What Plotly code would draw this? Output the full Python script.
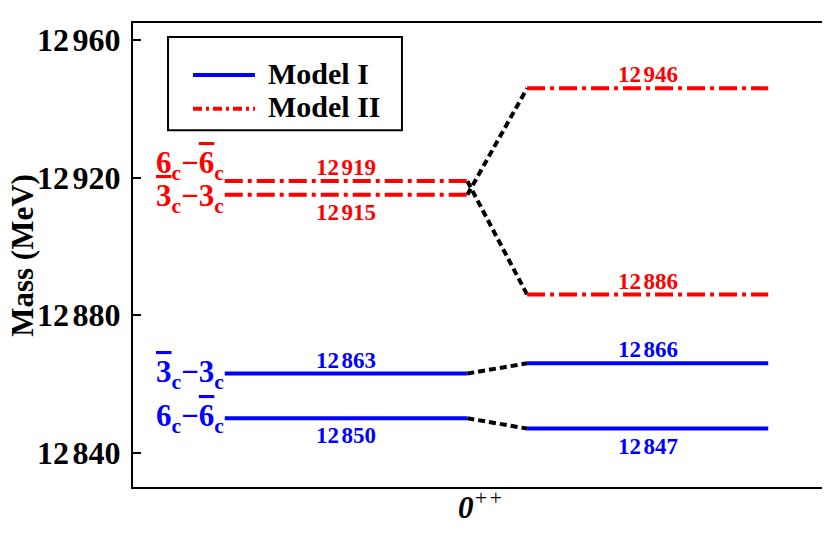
import plotly.graph_objects as go

# ---------------- data ----------------
OV = '<span style="text-decoration:overline">{}</span>'
state_labels = [
    "6<sub>c</sub>\u2212" + OV.format("6") + "<sub>c</sub>",
    OV.format("3") + "<sub>c</sub>\u22123<sub>c</sub>",
]
model1_left = [12850, 12863]
model1_right = [12847, 12866]
model2_left = [12919, 12915]
model2_right = [12886, 12946]
model1_left_pos = ["below", "above"]
model1_right_pos = ["below", "above"]
model2_left_pos = ["above", "below"]
model2_right_pos = ["above", "above"]
ytick_vals = [12840, 12880, 12920, 12960]
x_label = "0<span style=\"font-weight:normal\"><sup>++</sup></span>"
y_label = "Mass (MeV)"
model_names = ["Model I", "Model II"]

# ---------------- layout constants ----------------
LX0, LX1 = 0.132, 0.481
RX0, RX1 = 0.567, 0.914
FONT = "Liberation Serif"
BLUE = "#0000ff"
RED = "#ff0000"
DASHDOT = "18px,5px,4px,5px"


def fmt(v, gap=14):
    return f'{v // 1000}<span style="font-size:{gap}px"> </span>{v % 1000:03d}'


fig = go.Figure()

models = [
    (model1_left, model1_right, model1_left_pos, model1_right_pos, BLUE, "solid"),
    (model2_left, model2_right, model2_left_pos, model2_right_pos, RED, DASHDOT),
]

annotations = []
for left, right, lpos, rpos, color, dash in models:
    for i, (lv, rv) in enumerate(zip(left, right)):
        fig.add_trace(go.Scatter(x=[LX1, RX0], y=[lv, rv], mode="lines",
                                 line=dict(color="black", width=4, dash="7px,4px"),
                                 showlegend=False, hoverinfo="skip"))
        fig.add_trace(go.Scatter(x=[LX0, LX1], y=[lv, lv], mode="lines",
                                 line=dict(color=color, width=4, dash=dash),
                                 showlegend=False))
        fig.add_trace(go.Scatter(x=[RX0, RX1], y=[rv, rv], mode="lines",
                                 line=dict(color=color, width=4, dash=dash),
                                 showlegend=False))
        for xc, v, pos in [((LX0 + LX1) / 2, lv, lpos[i]), ((RX0 + RX1) / 2, rv, rpos[i])]:
            annotations.append(dict(
                x=xc, y=v, xref="x", yref="y", text=fmt(v, 10), showarrow=False,
                yanchor="bottom" if pos == "above" else "top",
                yshift=-1 if pos == "above" else -3,
                font=dict(family=FONT, size=23, color=color, weight="bold")))

# state labels on the left
state_cfg = [
    (model1_left[0], BLUE, "middle", 0),
    (model1_left[1], BLUE, "middle", 0),
    (model2_left[0], RED, "bottom", -6),
    (model2_left[1], RED, "middle", -3),
]
state_text = [state_labels[0], state_labels[1], state_labels[0], state_labels[1]]
for (v, color, ya, ys), txt in zip(state_cfg, state_text):
    annotations.append(dict(
        x=LX0, y=v, xref="x", yref="y", text=txt, showarrow=False,
        xanchor="right", yanchor=ya, yshift=ys, xshift=1,
        font=dict(family=FONT, size=31, color=color, weight="bold")))

# y-axis title placed explicitly
annotations.append(dict(x=-0.160, y=0.5, xref="paper", yref="paper", text=y_label,
                        textangle=-90, showarrow=False, xanchor="center", yanchor="middle",
                        font=dict(family=FONT, size=31, color="black", weight="bold")))

# manual legend (box, sample lines, labels) in paper coordinates
shapes = [
    dict(type="rect", xref="paper", yref="paper", x0=0.0504, x1=0.387, y0=0.769, y1=0.970,
         line=dict(color="black", width=2), fillcolor="white", layer="above"),
    dict(type="line", xref="paper", yref="paper", x0=0.0863, x1=0.1755, y0=0.888, y1=0.888,
         line=dict(color=BLUE, width=4), layer="above"),
    dict(type="line", xref="paper", yref="paper", x0=0.0863, x1=0.1755, y0=0.815, y1=0.815,
         line=dict(color=RED, width=4, dash="9px,4px,3px,4px"), layer="above"),
]
for name, yy in zip(model_names, [0.892, 0.821]):
    annotations.append(dict(x=0.192, y=yy, xref="paper", yref="paper", text=name,
                            showarrow=False, xanchor="left", yanchor="middle",
                            font=dict(family=FONT, size=30, color="black", weight="bold")))

fig.update_layout(
    width=822, height=546,
    margin=dict(l=125, r=2, t=15, b=67),
    paper_bgcolor="white", plot_bgcolor="white",
    font=dict(family=FONT, color="black"),
    annotations=annotations,
    shapes=shapes,
    showlegend=False,
    xaxis=dict(range=[0, 1], showticklabels=False, ticks="", showgrid=False,
               zeroline=False, showline=True, linecolor="black", linewidth=2, mirror=True,
               title=dict(text=x_label, standoff=8,
                          font=dict(family=FONT, size=31, color="black", weight="bold", style="italic"))),
    yaxis=dict(range=[12830, 12965], tickvals=ytick_vals, ticktext=[fmt(v) for v in ytick_vals],
               ticks="inside", ticklen=8, tickwidth=2, tickcolor="black", ticklabelstandoff=4,
               showgrid=False, zeroline=False, showline=True, linecolor="black", linewidth=2,
               mirror=False,
               tickfont=dict(family=FONT, size=32, color="black", weight="bold")),
)
# right frame line without ticks
fig.add_shape(type="line", xref="paper", yref="paper", x0=1, x1=1, y0=0, y1=1,
              line=dict(color="black", width=2))

fig.write_html("out.html")
